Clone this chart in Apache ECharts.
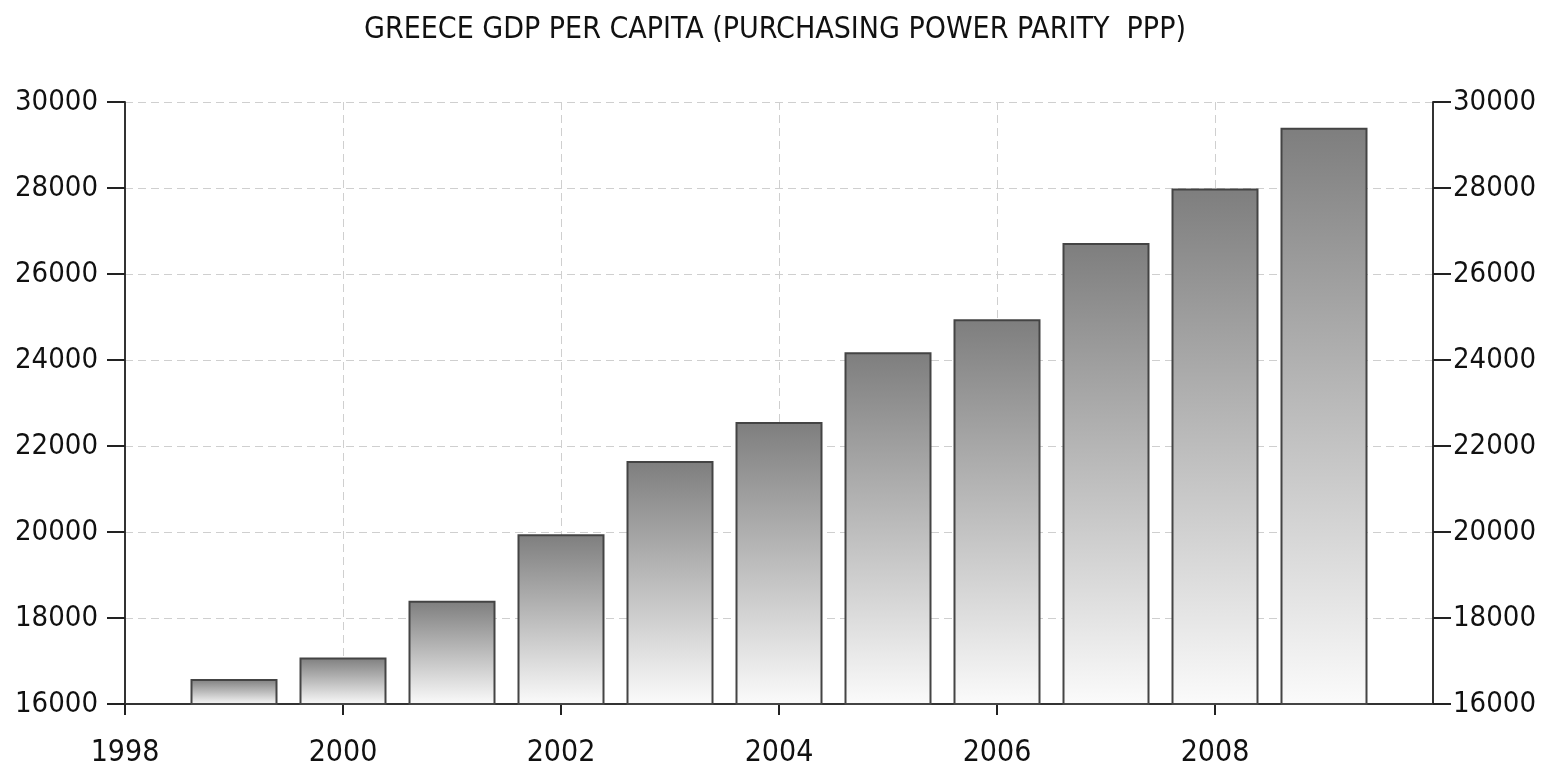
<!DOCTYPE html>
<html>
<head>
<meta charset="utf-8">
<script src="https://cdn.jsdelivr.net/npm/echarts@6/dist/echarts.min.js"></script>
<style>html,body{margin:0;padding:0;background:#fff;}#c{width:1550px;height:769px;}</style>
</head>
<body>
<div id="c"></div>
<script>
const titleText = 'GREECE GDP PER CAPITA (PURCHASING POWER PARITY  PPP)';
const years = [1999, 2000, 2001, 2002, 2003, 2004, 2005, 2006, 2007, 2008, 2009];
const gdpValues = [16580, 17080, 18400, 19950, 21650, 22560, 24180, 24950, 26720, 27990, 29400];
const yTicks = [16000, 18000, 20000, 22000, 24000, 26000, 28000, 30000];
const xTicks = [1998, 2000, 2002, 2004, 2006, 2008];

const FONT = '"DejaVu Sans Condensed", "DejaVu Sans", sans-serif';
const chart = echarts.init(document.getElementById('c'));
const yAxisCommon = {
  type: 'value', min: yTicks[0], max: yTicks[yTicks.length - 1], interval: 2000,
  axisLine: { show: true, lineStyle: { color: '#333', width: 2 } },
  axisTick: { show: true, length: 18, lineStyle: { color: '#222', width: 2 } },
  axisLabel: { fontFamily: FONT, fontSize: 29, color: '#111', formatter: v => String(v) }
};
chart.setOption({
  animation: false,
  title: {
    text: titleText, left: 'center', top: 10,
    textStyle: { fontFamily: FONT, fontSize: 30, fontWeight: 'normal', color: '#111' }
  },
  grid: { left: 125, right: 117, top: 102, bottom: 65 },
  xAxis: {
    type: 'value', min: 1998, max: 2010, interval: 2,
    axisLine: { show: true, lineStyle: { color: '#333', width: 2 } },
    axisTick: { show: true, length: 11, customValues: xTicks, lineStyle: { color: '#222', width: 2 } },
    axisLabel: {
      fontFamily: FONT, fontSize: 30, color: '#111', margin: 34,
      customValues: xTicks,
      formatter: v => String(v)
    },
    splitLine: { show: true, lineStyle: { color: '#cfcfcf', type: [8, 5], width: 1 } }
  },
  yAxis: [
    Object.assign({}, yAxisCommon, {
      position: 'left',
      axisLabel: Object.assign({}, yAxisCommon.axisLabel, { margin: 27 }),
      splitLine: { show: true, lineStyle: { color: '#cfcfcf', type: [8, 5], width: 1 } }
    }),
    Object.assign({}, yAxisCommon, {
      position: 'right',
      axisLabel: Object.assign({}, yAxisCommon.axisLabel, { margin: 20 }),
      splitLine: { show: false }
    })
  ],
  series: [{
    type: 'bar',
    barWidth: 87,
    data: years.map((y, i) => [y, gdpValues[i]]),
    itemStyle: {
      color: new echarts.graphic.LinearGradient(0, 0, 0, 1, [
        { offset: 0, color: '#7e7e7e' },
        { offset: 1, color: '#fbfbfb' }
      ]),
      borderColor: '#444',
      borderWidth: 2
    }
  }]
});
</script>
</body>
</html>
